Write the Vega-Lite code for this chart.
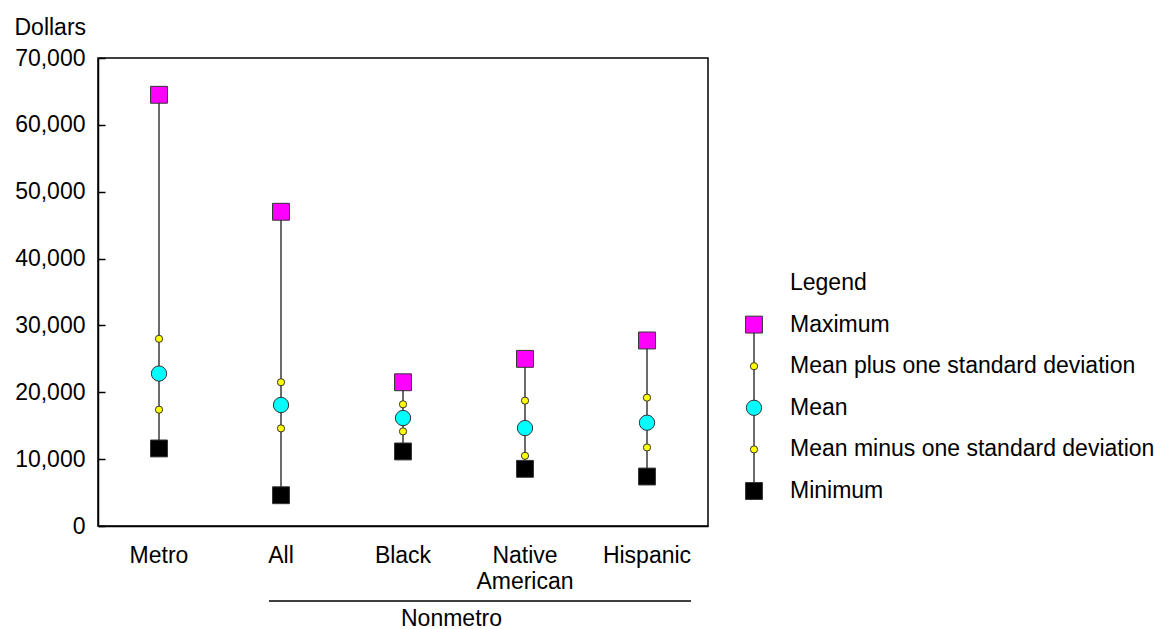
{
  "$schema": "https://vega.github.io/schema/vega-lite/v6.json",
  "autosize": {"type": "pad"},
  "padding": {"left": 13, "top": 15, "right": 0, "bottom": 0},
  "background": "white",
  "config": {
    "font": "Liberation Sans",
    "view": {"stroke": null},
    "axis": {"labelFont": "Liberation Sans", "labelFontSize": 23, "labelColor": "black", "titleFont": "Liberation Sans", "titleColor": "black", "domainColor": "black", "domainWidth": 1.5, "tickColor": "black", "tickWidth": 1.5, "grid": false}
  },
  "datasets": {
    "stats": [
      {"category": "Metro", "stat": "Maximum", "value": 64500},
      {"category": "Metro", "stat": "Mean plus one standard deviation", "value": 28000},
      {"category": "Metro", "stat": "Mean", "value": 22800},
      {"category": "Metro", "stat": "Mean minus one standard deviation", "value": 17400},
      {"category": "Metro", "stat": "Minimum", "value": 11600},
      {"category": "All", "stat": "Maximum", "value": 47000},
      {"category": "All", "stat": "Mean plus one standard deviation", "value": 21500},
      {"category": "All", "stat": "Mean", "value": 18100},
      {"category": "All", "stat": "Mean minus one standard deviation", "value": 14600},
      {"category": "All", "stat": "Minimum", "value": 4600},
      {"category": "Black", "stat": "Maximum", "value": 21500},
      {"category": "Black", "stat": "Mean plus one standard deviation", "value": 18200},
      {"category": "Black", "stat": "Mean", "value": 16150},
      {"category": "Black", "stat": "Mean minus one standard deviation", "value": 14150},
      {"category": "Black", "stat": "Minimum", "value": 11150},
      {"category": "Native American", "stat": "Maximum", "value": 25000},
      {"category": "Native American", "stat": "Mean plus one standard deviation", "value": 18750},
      {"category": "Native American", "stat": "Mean", "value": 14650},
      {"category": "Native American", "stat": "Mean minus one standard deviation", "value": 10500},
      {"category": "Native American", "stat": "Minimum", "value": 8550},
      {"category": "Hispanic", "stat": "Maximum", "value": 27750},
      {"category": "Hispanic", "stat": "Mean plus one standard deviation", "value": 19200},
      {"category": "Hispanic", "stat": "Mean", "value": 15450},
      {"category": "Hispanic", "stat": "Mean minus one standard deviation", "value": 11750},
      {"category": "Hispanic", "stat": "Minimum", "value": 7400}
    ],
    "legend": [
      {"label": "Legend"},
      {"label": "Maximum"},
      {"label": "Mean plus one standard deviation"},
      {"label": "Mean"},
      {"label": "Mean minus one standard deviation"},
      {"label": "Minimum"}
    ],
    "legendline": [{"label": "Maximum", "label2": "Minimum"}],
    "group": [{"group": "Nonmetro", "from": "All", "to": "Hispanic"}]
  },
  "columns": 2,
  "spacing": {"row": 65, "column": 36},
  "bounds": "flush",
  "concat": [
    {
      "width": 610,
      "height": 468,
      "view": {"stroke": "black", "strokeWidth": 1.5},
      "data": {"name": "stats"},
      "encoding": {
        "x": {
          "field": "category", "type": "nominal",
          "scale": {"domain": ["Metro", "All", "Black", "Native American", "Hispanic"], "paddingInner": 0, "paddingOuter": 0},
          "axis": {"title": null, "labelAngle": 0, "ticks": false, "labelPadding": 18, "labelLineHeight": 26, "labelExpr": "datum.label == 'Native American' ? ['Native', 'American'] : datum.label"}
        }
      },
      "layer": [
        {
          "mark": {"type": "rule", "color": "#3a3a3a", "strokeWidth": 1.5},
          "encoding": {
            "y": {"aggregate": "min", "field": "value", "type": "quantitative", "scale": {"domain": [0, 70000], "nice": false},
              "axis": {"title": "Dollars", "values": [0, 10000, 20000, 30000, 40000, 50000, 60000, 70000], "format": ",.0f", "tickSize": -7, "labelPadding": 20, "titleAngle": 0, "titleAlign": "left", "titleBaseline": "alphabetic", "titleX": -84, "titleY": -24, "titleFontSize": 23, "titleFontWeight": "normal"}},
            "y2": {"aggregate": "max", "field": "value"}
          }
        },
        {
          "transform": [{"filter": {"field": "stat", "oneOf": ["Maximum", "Minimum"]}}],
          "mark": {"type": "point", "shape": "square", "filled": true, "size": 285, "stroke": "#333", "strokeWidth": 1, "opacity": 1},
          "encoding": {
            "y": {"field": "value", "type": "quantitative", "scale": {"domain": [0, 70000], "nice": false},
              "axis": {"title": "Dollars", "values": [0, 10000, 20000, 30000, 40000, 50000, 60000, 70000], "format": ",.0f", "tickSize": -7, "labelPadding": 20, "titleAngle": 0, "titleAlign": "left", "titleBaseline": "alphabetic", "titleX": -84, "titleY": -24, "titleFontSize": 23, "titleFontWeight": "normal"}},
            "color": {"field": "stat", "type": "nominal", "scale": {"domain": ["Maximum", "Minimum"], "range": ["#ff00ff", "#000000"]}, "legend": null}
          }
        },
        {
          "transform": [{"filter": {"field": "stat", "oneOf": ["Mean plus one standard deviation", "Mean minus one standard deviation"]}}],
          "mark": {"type": "point", "shape": "circle", "filled": true, "size": 52, "fill": "#ffff00", "stroke": "#333", "strokeWidth": 1, "opacity": 1},
          "encoding": {
            "y": {"field": "value", "type": "quantitative"}
          }
        },
        {
          "transform": [{"filter": {"field": "stat", "equal": "Mean"}}],
          "mark": {"type": "point", "shape": "circle", "filled": true, "size": 235, "fill": "#00ffff", "stroke": "#333", "strokeWidth": 1, "opacity": 1},
          "encoding": {
            "y": {"field": "value", "type": "quantitative"}
          }
        }
      ]
    },
    {
      "width": 20,
      "height": 468,
      "data": {"name": "legend"},
      "encoding": {
        "y": {"field": "label", "type": "nominal", "axis": null,
          "scale": {"type": "point", "domain": ["Legend", "Maximum", "Mean plus one standard deviation", "Mean", "Mean minus one standard deviation", "Minimum"], "range": [225, 433], "padding": 0}}
      },
      "layer": [
        {
          "data": {"name": "legendline"},
          "mark": {"type": "rule", "color": "#3a3a3a", "strokeWidth": 1.5},
          "encoding": {"y2": {"field": "label2"}}
        },
        {
          "transform": [{"filter": {"field": "label", "oneOf": ["Maximum", "Minimum"]}}],
          "mark": {"type": "point", "shape": "square", "filled": true, "size": 285, "stroke": "#333", "strokeWidth": 1, "opacity": 1},
          "encoding": {
            "color": {"field": "label", "type": "nominal", "scale": {"domain": ["Maximum", "Minimum"], "range": ["#ff00ff", "#000000"]}, "legend": null}
          }
        },
        {
          "transform": [{"filter": {"field": "label", "oneOf": ["Mean plus one standard deviation", "Mean minus one standard deviation"]}}],
          "mark": {"type": "point", "shape": "circle", "filled": true, "size": 52, "fill": "#ffff00", "stroke": "#333", "strokeWidth": 1, "opacity": 1}
        },
        {
          "transform": [{"filter": {"field": "label", "equal": "Mean"}}],
          "mark": {"type": "point", "shape": "circle", "filled": true, "size": 235, "fill": "#00ffff", "stroke": "#333", "strokeWidth": 1, "opacity": 1}
        },
        {
          "mark": {"type": "text", "align": "left", "baseline": "middle", "dx": 36, "fontSize": 23, "color": "black"},
          "encoding": {"text": {"field": "label"}}
        }
      ]
    },
    {
      "width": 610,
      "height": 20,
      "data": {"name": "group"},
      "encoding": {
        "x": {"field": "from", "type": "nominal", "scale": {"domain": ["Metro", "All", "Black", "Native American", "Hispanic"], "paddingInner": 0, "paddingOuter": 0}, "axis": null}
      },
      "layer": [
        {
          "mark": {"type": "rule", "color": "black", "strokeWidth": 1.5, "xOffset": -12, "x2Offset": 44},
          "encoding": {"x2": {"field": "to"}}
        },
        {
          "mark": {"type": "text", "align": "left", "baseline": "alphabetic", "dx": 120, "dy": 25, "fontSize": 23, "color": "black"},
          "encoding": {"text": {"field": "group"}}
        }
      ]
    }
  ]
}
